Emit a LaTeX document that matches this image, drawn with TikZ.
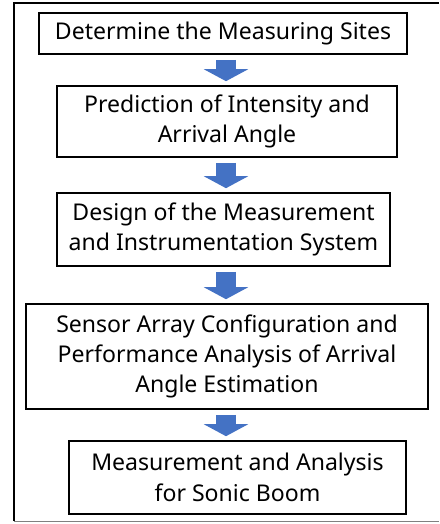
\documentclass[tikz,border=0pt]{standalone}
\usepackage{fontspec}
\setmainfont{Noto Sans}
\usetikzlibrary{arrows.meta}
\definecolor{officeblue}{RGB}{68,114,196}
\tikzset{stepbox/.style={draw,line width=1.2pt,align=center,inner sep=0pt,
    font=\fontsize{17.3}{22.8}\selectfont},
  flow/.style={officeblue,line width=15pt,-{Triangle[width=33pt,length=9pt]},
    shorten <=3.75pt,shorten >=3pt}}

\begin{document}
\begin{tikzpicture}[x=0.75pt,y=0.75pt,yscale=-1,xscale=1]
\useasboundingbox (0,0) rectangle (439,524);

%Outer frame (cut on the right)
\draw [line width=1.5pt] (14,521) -- (14,3.5) -- (439,3.5) ;
\draw [color=gray,line width=0.8pt] (14,521.5) -- (439,521.5) ;

%Steps
\node [stepbox,minimum width=276pt,minimum height=30.75pt] (sites) at (223,33.5) {Determine the Measuring Sites};
\node [stepbox,minimum width=255pt,minimum height=53.25pt] (predict) at (227,121.5) {Prediction of Intensity and\\Arrival Angle};
\node [stepbox,minimum width=249.75pt,minimum height=54.75pt] (design) at (223.5,229.5) {Design of the Measurement\\and Instrumentation System};
\node [stepbox,minimum width=301.5pt,minimum height=78.75pt] (sensor) at (227,356.5) {Sensor Array Configuration and\\Performance Analysis of Arrival\\Angle Estimation};
\node [stepbox,minimum width=252.75pt,minimum height=54.75pt] (boom) at (237.5,477.5) {Measurement and Analysis\\for Sonic Boom};

%Block arrows
\coordinate (axis) at (226,0);
\draw [flow] (sites.south -| axis) -- (predict.north -| axis) ;
\draw [flow] (predict.south -| axis) -- (design.north -| axis) ;
\draw [flow] (design.south -| axis) -- (sensor.north -| axis) ;
\draw [flow] (sensor.south -| axis) -- (boom.north -| axis) ;

\end{tikzpicture}
\end{document}
